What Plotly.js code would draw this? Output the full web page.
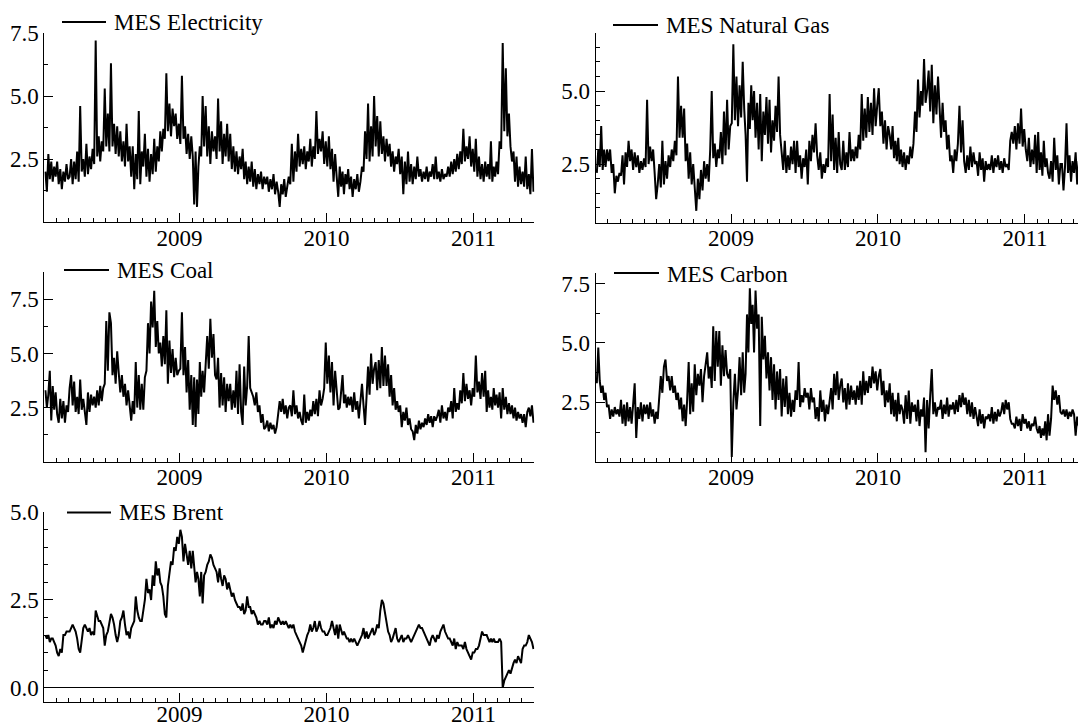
<!DOCTYPE html>
<html>
<head>
<meta charset="utf-8">
<script src="https://cdn.plot.ly/plotly-3.0.1.min.js"></script>
<style>html,body{margin:0;padding:0;background:#fff;}#chart{width:1078px;height:727px;}</style>
</head>
<body>
<div id="chart"></div>
<script>
// Sample grid: 8 observations per month, Feb 2008 .. May 2011 (40 months)
const startYear = 2008, startMonth = 2, monthCount = 40, perMonth = 8;

const seriesNames = ["MES Electricity", "MES Natural Gas", "MES Coal", "MES Carbon", "MES Brent"];
const yearTicks = ["2009", "2010", "2011"];
const yTicksElec = [2.5, 5.0, 7.5];
const yTicksGas = [2.5, 5.0];
const yTicksCoal = [2.5, 5.0, 7.5];
const yTicksCarbon = [2.5, 5.0, 7.5];
const yTicksBrent = [0.0, 2.5, 5.0];

const elec = [
2.0,1.2,2.7,1.7,2.4,1.6,2.2,1.8, 2.4,1.5,2.1,1.3,2.0,1.6,2.3,1.7, 1.8,2.5,1.5,2.4,1.7,2.8,1.6,4.6, 2.0,2.5,1.8,3.1,1.9,2.6,2.1,2.9,
2.3,7.2,2.6,3.4,2.4,3.2,2.8,5.3, 3.0,4.3,2.8,6.3,3.0,3.9,2.7,3.8, 2.6,3.6,2.4,3.2,2.2,3.9,2.4,3.0, 1.8,3.0,1.3,2.7,1.7,4.4,1.5,2.8,
2.2,3.5,1.8,2.9,1.6,2.7,1.9,3.3, 2.0,3.0,2.4,3.6,2.8,3.7,3.3,5.9, 3.6,4.7,3.4,4.5,3.8,4.3,3.3,3.9, 3.1,5.8,3.3,3.8,2.7,3.5,2.5,3.4,
2.6,0.7,2.8,0.6,2.2,3.0,2.6,5.0, 3.0,4.6,2.6,3.8,2.3,3.6,2.8,3.4, 2.5,4.9,2.8,4.0,2.3,3.5,2.6,3.9, 2.4,3.5,2.1,3.0,2.0,2.8,1.9,2.6,
2.1,2.9,1.7,2.4,1.5,2.2,1.6,2.4, 1.4,2.1,1.3,1.9,1.5,2.0,1.3,1.8, 1.5,1.8,1.2,1.7,1.3,1.9,1.1,1.6, 1.2,0.6,1.5,1.1,1.7,1.0,1.4,1.8,
1.5,3.1,1.6,2.8,2.0,3.5,2.2,2.9, 2.3,3.0,2.1,2.8,2.4,3.3,2.2,3.0, 2.5,4.4,2.7,3.3,2.8,3.6,2.3,3.2, 2.2,3.4,2.1,2.9,1.6,2.7,1.8,1.0,
2.2,1.4,2.0,1.1,1.9,1.5,2.1,1.3, 1.8,1.0,1.7,1.3,1.9,1.2,1.6,2.2, 2.0,3.6,2.5,4.7,2.4,3.8,2.6,5.0, 3.0,4.2,2.6,4.0,2.7,3.4,2.4,3.3,
2.6,3.1,2.2,2.8,2.0,2.6,2.3,2.9, 1.9,2.6,1.1,2.4,1.5,2.8,1.6,2.3, 1.5,2.2,1.7,2.6,1.8,2.1,1.6,2.0, 1.7,2.2,1.6,2.0,1.8,2.3,1.7,2.6,
1.7,2.0,1.6,2.1,1.7,1.9,1.8,2.2, 1.8,2.4,1.9,2.5,2.0,2.7,2.1,2.8, 2.3,3.7,2.4,3.0,2.5,3.4,2.2,2.9, 2.0,3.3,1.8,2.6,1.7,2.3,1.6,2.4,
1.8,2.3,1.7,3.2,1.6,2.2,1.8,2.4, 1.9,3.2,2.9,7.1,3.6,6.1,3.4,4.3, 3.0,2.4,2.8,1.6,2.6,1.4,2.2,1.5, 2.0,1.4,2.6,1.3,1.9,1.1,2.9,1.2];

const gas = [
2.2,3.0,2.4,3.8,2.3,3.0,2.4,3.0, 2.6,3.0,2.2,2.5,1.5,2.1,1.9,2.2, 2.1,2.8,1.8,2.9,2.4,3.3,2.6,3.0, 2.3,2.9,2.4,2.8,2.2,2.6,2.3,2.7,
2.4,4.7,2.5,3.1,2.6,3.0,2.2,1.3, 1.8,2.5,1.7,3.3,1.8,2.6,2.0,2.8, 2.4,3.0,2.6,3.3,2.8,5.5,3.4,4.5, 3.4,4.4,2.6,3.2,2.0,2.9,1.8,2.5,
1.7,0.9,2.0,1.3,2.3,1.6,2.6,2.0, 2.5,1.9,3.0,5.0,2.7,3.2,2.4,3.0, 2.7,3.6,2.5,4.3,2.8,4.7,3.0,3.8, 3.9,6.6,4.0,5.5,3.8,5.2,4.1,6.0,
4.4,3.5,1.9,4.6,3.7,5.2,4.0,5.0, 3.4,4.6,3.0,4.9,2.6,4.3,3.5,4.8, 3.2,4.7,2.9,4.0,3.3,4.5,3.6,5.5, 3.5,3.0,2.3,3.3,2.2,2.8,2.3,3.1,
2.5,3.3,2.2,3.3,2.4,2.8,2.0,2.7, 2.4,3.0,1.8,3.3,2.6,3.5,2.9,3.9, 2.8,2.3,2.9,2.0,2.5,2.2,2.7,2.4, 4.9,2.6,4.2,2.3,3.4,2.2,3.6,2.5,
2.3,3.3,2.3,2.9,2.4,3.6,2.6,3.0, 2.6,3.1,2.7,3.5,3.0,4.9,3.3,4.4, 3.4,4.8,3.6,4.6,3.5,5.1,3.8,4.5, 5.1,3.8,4.3,3.2,4.0,3.0,3.8,3.5,
3.0,3.8,2.7,3.3,2.6,3.4,2.5,3.0, 2.4,2.9,2.3,2.8,2.5,3.1,2.7,3.2, 4.3,3.6,5.4,4.1,5.0,4.5,6.1,4.6, 5.0,5.7,4.3,5.9,3.9,5.2,4.2,5.5,
4.3,3.4,4.6,3.6,4.0,3.0,3.5,2.6, 2.8,2.2,3.0,2.6,3.2,4.5,2.9,4.0, 2.6,2.2,2.8,2.3,3.1,2.4,2.9,2.5, 2.6,2.1,2.9,2.3,2.7,1.9,2.6,2.3,
2.5,2.3,2.8,2.2,2.7,2.4,2.8,2.3, 2.6,2.2,2.7,2.4,2.5,2.3,3.3,3.6, 3.2,3.8,3.0,3.9,3.2,4.4,3.1,3.7, 3.0,2.6,3.4,2.4,3.0,2.5,3.5,2.2,
3.6,2.3,2.9,2.1,3.3,2.4,2.7,2.2, 2.0,2.6,1.9,3.4,2.3,2.8,1.8,2.5, 2.5,1.6,2.4,3.9,2.2,2.8,1.9,2.6, 2.2,2.9,1.8,2.6,2.0,2.7,2.1,2.5];

const coal = [
3.3,2.5,3.1,4.2,1.9,3.5,2.4,3.2, 2.2,1.8,2.9,2.0,2.8,1.8,2.6,2.3, 3.4,4.0,2.6,3.7,2.3,3.0,2.2,3.8, 2.4,2.9,2.3,1.7,3.2,2.3,3.1,2.6,
3.0,2.5,3.3,2.6,3.5,2.8,3.4,3.6, 6.5,4.2,6.9,6.4,4.0,4.8,3.6,5.1, 4.1,3.2,4.0,3.0,3.6,2.6,3.3,2.5, 1.9,2.8,2.2,4.6,2.5,4.0,2.4,3.6,
2.4,3.9,4.2,6.4,5.0,7.4,6.2,7.9, 5.3,6.5,5.0,5.5,4.4,5.8,4.5,7.0, 3.6,5.6,4.1,5.2,3.9,4.8,4.0,4.2, 4.3,6.9,4.0,5.3,3.2,4.7,2.4,4.0,
1.7,3.9,1.6,3.8,2.2,4.6,3.0,4.2, 3.2,4.5,5.8,4.3,6.6,4.8,5.9,4.0, 3.8,4.8,2.5,4.1,2.6,3.9,2.3,3.6, 2.8,3.6,2.4,3.3,2.5,4.2,2.2,4.5,
2.3,1.7,4.4,2.6,3.5,5.8,3.4,3.2, 3.0,2.6,3.2,2.3,2.6,1.8,2.2,1.5, 1.6,1.9,1.4,1.8,1.5,1.7,1.3,1.6, 2.1,2.8,2.3,2.9,2.2,2.6,2.0,2.5,
2.6,2.1,3.3,2.2,2.6,2.0,2.3,1.9, 1.7,3.1,1.8,2.3,1.9,2.4,2.1,2.8, 2.2,2.9,2.1,3.3,2.6,2.9,3.4,5.5, 3.6,4.9,3.2,4.6,2.6,4.2,3.3,2.4,
2.5,3.2,4.0,2.7,3.1,2.5,3.0,2.6, 3.0,2.3,3.2,2.4,2.8,2.0,2.7,3.6, 2.6,1.7,3.0,4.4,3.1,5.0,3.6,4.3, 4.6,3.3,4.7,3.4,5.3,3.5,4.9,3.5,
4.5,3.0,4.0,2.6,3.4,2.4,2.8,2.3, 2.6,1.6,2.3,1.9,2.5,1.7,2.0,1.5, 1.4,1.0,1.7,1.3,1.9,1.5,1.8,1.6, 2.0,1.7,2.2,1.8,2.1,1.6,2.1,1.9,
2.1,2.4,1.8,2.6,2.0,2.3,1.9,2.5, 2.3,2.8,2.0,3.4,2.3,2.7,2.4,3.3, 2.7,4.1,2.8,3.6,2.9,3.3,2.6,3.4, 3.0,4.9,3.2,3.7,2.9,4.1,3.0,4.2,
2.3,3.3,2.5,3.0,2.4,3.4,2.6,3.1, 2.5,3.2,2.0,3.4,2.4,3.0,2.2,2.7, 2.2,2.6,2.0,2.5,1.9,2.3,2.0,2.2, 1.8,2.2,1.6,2.3,2.5,2.1,2.6,1.8];

const carbon = [
3.3,4.8,3.4,2.9,3.2,2.6,2.9,2.3, 2.4,1.8,2.2,1.9,2.3,2.0,2.2,1.9, 2.6,1.6,2.4,1.5,2.5,1.7,2.3,1.6, 2.4,3.3,1.0,2.3,1.8,2.5,1.7,2.4,
2.0,2.4,1.8,2.5,1.9,2.2,1.6,2.1, 1.8,2.6,3.6,2.9,4.0,4.3,3.4,3.6, 3.0,3.6,2.9,3.2,2.6,2.9,2.2,2.7, 1.7,2.4,1.5,2.6,4.2,2.0,3.3,2.1,
4.1,2.8,3.7,3.2,3.9,2.5,3.6,4.1, 4.6,3.5,4.0,3.1,5.7,3.4,5.5,4.0, 5.5,3.2,4.9,3.6,4.7,3.7,3.5,3.9, 0.2,2.5,3.7,2.2,3.0,4.4,2.8,4.6,
2.9,3.7,6.2,4.6,7.3,5.8,6.6,4.6, 7.2,5.6,6.2,1.5,6.1,4.3,5.3,3.5, 4.6,3.0,4.4,2.6,4.1,2.2,3.8,2.6, 3.9,1.9,3.5,2.3,3.6,2.0,2.9,1.9,
2.6,2.1,3.0,2.6,4.2,2.3,2.8,2.5, 3.1,2.7,2.9,2.2,3.1,2.5,2.7,1.8, 2.3,1.7,3.0,2.1,2.6,1.7,2.4,2.0, 2.6,3.1,2.2,3.7,2.8,3.8,2.6,3.2,
3.5,2.5,3.1,2.2,3.3,2.4,3.2,2.6, 3.0,2.4,3.2,2.6,3.4,2.4,3.8,2.8, 3.4,2.9,3.6,3.1,4.0,3.3,3.8,3.0, 3.6,3.9,2.8,3.4,2.3,3.0,2.5,3.3,
2.0,2.9,1.9,2.6,1.7,2.9,2.0,2.4, 2.2,1.6,2.8,1.8,3.0,1.6,2.5,2.1, 2.4,1.7,2.6,1.5,2.2,1.9,2.7,0.4, 2.6,1.4,2.8,3.9,2.0,2.5,1.9,2.3,
2.2,2.6,1.8,2.4,2.0,2.7,1.9,2.4, 2.2,2.5,2.0,2.6,2.1,2.8,2.3,2.9, 2.4,2.7,2.0,2.6,1.9,2.5,1.8,2.3, 1.9,1.5,2.2,1.6,2.0,1.4,1.9,1.8,
2.0,1.7,2.3,1.6,2.1,1.7,2.2,1.9, 2.1,2.5,2.0,2.6,2.2,2.5,1.8,1.6, 1.6,1.4,1.9,1.5,1.8,1.3,2.0,1.6, 1.8,1.4,1.7,1.3,1.6,1.5,1.9,1.4,
1.2,1.5,1.0,1.4,1.1,1.7,0.9,2.0, 1.1,1.8,3.2,2.6,3.0,2.4,2.8,2.1, 2.0,2.2,1.9,2.2,1.8,2.1,1.9,2.2, 2.0,1.1,1.9,1.5,1.7,1.3,1.6,1.2];

const brent = [
1.5,1.4,1.5,1.3,1.4,1.4,1.3,1.2, 1.0,0.9,1.1,1.0,1.5,1.5,1.6,1.6, 1.6,1.7,1.8,1.7,1.6,1.4,1.1,1.0, 1.4,1.7,1.8,1.7,1.6,1.7,1.5,1.6,
1.5,2.2,2.0,1.9,1.9,1.8,1.7,1.2, 1.5,1.6,1.9,2.1,2.0,1.8,1.5,1.3, 1.5,1.9,2.0,2.2,1.8,1.5,1.6,1.4, 1.7,1.8,1.9,2.6,2.2,2.0,1.9,1.9,
2.2,2.5,3.1,2.7,2.8,2.5,3.2,2.9, 3.6,3.2,3.4,3.0,2.9,2.6,2.1,2.0, 2.9,3.3,3.6,3.5,4.0,3.9,4.3,4.1, 4.5,4.3,3.6,4.1,3.8,3.5,3.9,3.4,
3.9,3.4,3.0,3.3,3.1,2.6,3.3,2.4, 3.2,3.3,3.5,3.6,3.8,3.7,3.5,3.4, 3.3,3.0,3.4,3.1,2.9,3.2,3.1,2.8, 3.0,2.8,2.6,2.7,2.5,2.4,2.3,2.3,
2.2,2.4,2.1,2.2,2.6,2.3,2.3,2.1, 2.2,2.1,2.0,1.8,1.9,1.8,1.8,1.9, 1.9,1.8,2.0,1.7,1.8,1.7,1.9,1.8, 2.0,1.9,1.8,1.9,1.8,1.9,1.8,1.7,
1.8,1.7,1.8,1.6,1.5,1.4,1.3,1.2, 1.0,1.2,1.4,1.5,1.6,1.8,1.6,1.7, 1.9,1.6,1.7,1.9,1.7,1.6,1.6,1.5, 1.5,1.6,1.7,1.9,1.7,1.5,1.8,1.4,
1.8,1.6,1.5,1.6,1.5,1.4,1.4,1.3, 1.4,1.3,1.4,1.3,1.2,1.3,1.4,1.5, 1.7,1.4,1.6,1.4,1.5,1.6,1.7,1.5, 1.6,1.8,1.7,2.2,2.5,2.4,2.1,1.9,
1.6,1.5,1.3,1.4,1.6,1.7,1.4,1.3, 1.4,1.5,1.3,1.4,1.4,1.5,1.4,1.3, 1.4,1.5,1.6,1.7,1.8,1.7,1.7,1.6, 1.5,1.4,1.3,1.2,1.4,1.5,1.4,1.3,
1.5,1.4,1.6,1.7,1.8,1.6,1.5,1.4, 1.4,1.3,1.2,1.4,1.1,1.3,1.2,1.2, 1.2,1.1,1.3,1.1,1.0,0.9,0.8,1.0, 1.0,1.1,1.1,1.2,1.4,1.6,1.5,1.5,
1.5,1.4,1.3,1.4,1.3,1.4,1.3,1.3, 1.3,1.4,1.3,0.0,0.2,0.3,0.4,0.5, 0.4,0.6,0.7,0.8,0.7,0.9,0.8,0.7, 1.1,1.2,1.2,1.3,1.5,1.4,1.3,1.1];

// date grid
function pad(n){return (n<10?'0':'')+n;}
const dates = [];
for (let m = 0; m < monthCount; m++) {
  const t0 = Date.UTC(startYear, startMonth - 1 + m, 1);
  const t1 = Date.UTC(startYear, startMonth + m, 1);
  for (let k = 0; k < perMonth; k++) {
    const d = new Date(t0 + (k + 0.5) / perMonth * (t1 - t0));
    dates.push(d.getUTCFullYear() + '-' + pad(d.getUTCMonth()+1) + '-' + pad(d.getUTCDate()) + ' ' + pad(d.getUTCHours()) + ':00');
  }
}

const W = 1078, H = 727;
const FONT = {family: '"Liberation Serif", "Times New Roman", "DejaVu Serif", serif', size: 23, color: '#000'};
const px = v => v / W;
const py = v => 1 - v / H;

const allSeries = [elec, gas, coal, carbon, brent];
const data = allSeries.map((s, i) => ({
  type: 'scatter', mode: 'lines', x: dates, y: s, name: seriesNames[i],
  xaxis: 'x' + (i ? i + 1 : ''), yaxis: 'y' + (i ? i + 1 : ''),
  line: {color: '#000', width: 2}, showlegend: false, hoverinfo: 'skip'
}));

const leftDom = [px(44.3), px(534.3)], rightDom = [px(595.7), 1];
const leftRange = ['2008-01-31', '2011-06-01'], rightRange = ['2008-01-31', '2011-05-12 16:00'];
const yearVals = yearTicks.map(y => y + '-01-01');

function xax(dom, rng, anchor, standoff) {
  return {
    type: 'date', domain: dom, range: rng, anchor: anchor,
    showline: true, linecolor: '#000', linewidth: 1, mirror: false,
    ticks: 'inside', ticklen: 9, tickwidth: 1, tickcolor: '#000',
    tickmode: 'array', tickvals: yearVals, ticktext: yearTicks,
    ticklabelstandoff: standoff,
    minor: {tickmode: 'linear', dtick: 'M1', tick0: '2009-01-01', ticks: 'inside', ticklen: 4, tickcolor: '#000', tickwidth: 1, showgrid: false},
    showgrid: false, zeroline: false, tickfont: FONT, fixedrange: true
  };
}
function yax(dom, rng, anchor, vals, minorStep, zl) {
  return {
    domain: dom, range: rng, anchor: anchor,
    showline: true, linecolor: '#000', linewidth: 1, mirror: false,
    ticks: 'inside', ticklen: 9, tickwidth: 1, tickcolor: '#000',
    tickmode: 'array', tickvals: vals, ticktext: vals.map(v => v.toFixed(1)),
    minor: {tickmode: 'linear', tick0: 0, dtick: minorStep, ticks: 'inside', ticklen: 4, tickcolor: '#000', tickwidth: 1, showgrid: false},
    showgrid: false, zeroline: !!zl, zerolinecolor: '#000', zerolinewidth: 1,
    tickfont: FONT, fixedrange: true
  };
}

const legendPos = [
  {l0: 62, l1: 106, ly: 22, tx: 112, ty: 22.5},
  {l0: 613, l1: 658, ly: 25, tx: 663.5, ty: 25.5},
  {l0: 64, l1: 109, ly: 270, tx: 114.5, ty: 270.5},
  {l0: 614, l1: 659, ly: 273, tx: 665, ty: 274},
  {l0: 67, l1: 111, ly: 512.5, tx: 116.5, ty: 512.5}
];
const shapes = legendPos.map(p => ({type: 'line', xref: 'paper', yref: 'paper',
  x0: px(p.l0), x1: px(p.l1), y0: py(p.ly), y1: py(p.ly), line: {color: '#000', width: 2}}));
const annotations = legendPos.map((p, i) => ({xref: 'paper', yref: 'paper', x: px(p.tx), y: py(p.ty),
  xanchor: 'left', yanchor: 'middle', text: seriesNames[i], showarrow: false, font: FONT}));

const layout = {
  width: W, height: H, margin: {l: 0, r: 0, t: 0, b: 0},
  paper_bgcolor: '#fff', plot_bgcolor: '#fff', showlegend: false,
  xaxis:  xax(leftDom,  leftRange,  'y',  -5),
  xaxis2: xax(rightDom, rightRange, 'y2', -5),
  xaxis3: xax(leftDom,  leftRange,  'y3', -5),
  xaxis4: xax(rightDom, rightRange, 'y4', -5),
  xaxis5: xax(leftDom,  leftRange,  'y5', -8),
  yaxis:  yax([py(222), py(33)],      [0, 7.5],   'x',  yTicksElec,   1.25),
  yaxis2: yax([py(222.5), py(32.7)],  [0.5, 7.0], 'x2', yTicksGas,    0.5),
  yaxis3: yax([py(461.7), py(272.3)], [0, 8.75],  'x3', yTicksCoal,   1.25),
  yaxis4: yax([py(461.7), py(273.3)], [0, 7.93],  'x4', yTicksCarbon, 1.25),
  yaxis5: yax([py(701.7), py(512.3)], [-0.4, 5.0],'x5', yTicksBrent,  0.5, true),
  shapes: shapes, annotations: annotations
};

Plotly.newPlot('chart', data, layout, {displayModeBar: false, staticPlot: true});
</script>
</body>
</html>
